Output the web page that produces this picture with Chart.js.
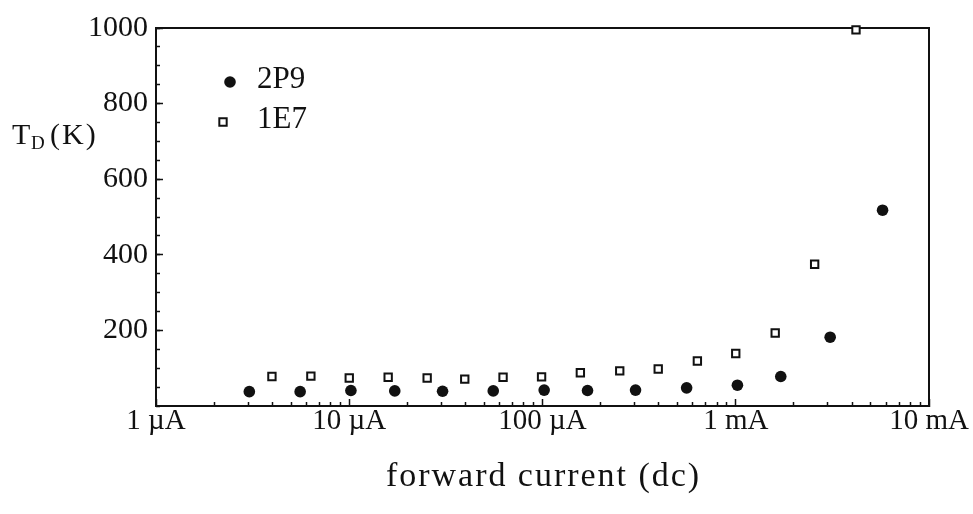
<!DOCTYPE html>
<html>
<head>
<meta charset="utf-8">
<title>T_D vs forward current</title>
<script src="https://cdn.jsdelivr.net/npm/chart.js@4.4.1/dist/chart.umd.min.js"></script>
<style>
  html, body { margin: 0; padding: 0; background: #fff; }
  #wrap { position: relative; width: 973px; height: 514px; }
</style>
</head>
<body>
<div id="wrap"><canvas id="chart" width="973" height="514"></canvas></div>
<script>
// forward current (A) and diode temperature T_D (K)
const current2P9 = [3.04e-6, 5.57e-6, 1.02e-5, 1.72e-5, 3.04e-5, 5.56e-5, 1.02e-4, 1.71e-4,
                    3.03e-4, 5.57e-4, 1.02e-3, 1.71e-3, 3.08e-3, 5.75e-3];
const temp2P9 = [38, 38, 41, 40, 39, 40, 42, 41, 42, 48, 55, 78, 182, 518];

const current1E7 = [3.98e-6, 6.33e-6, 1.0e-5, 1.59e-5, 2.53e-5, 3.96e-5, 6.25e-5, 9.89e-5,
                    1.57e-4, 2.51e-4, 3.97e-4, 6.33e-4, 1.0e-3, 1.6e-3, 2.56e-3, 4.19e-3];
const temp1E7 = [78, 79, 74, 76, 74, 71, 76, 77, 88, 93, 98, 119, 139, 193, 375, 995];

// axis ticks
const decadeTicks = [1e-6, 1e-5, 1e-4, 1e-3, 1e-2];
const decadeLabels = ['1 µA', '10 µA', '100 µA', '1 mA', '10 mA'];
const minorMantissas = [2, 3, 4, 5, 6, 7, 8, 9];
const yLabelTicks = [200, 400, 600, 800, 1000];

const INK = '#111';
const FONT = '"Liberation Serif", "Times New Roman", Times, serif';

function minorXTicks() {
    let out = [];
    decadeTicks.slice(0, -1).forEach(d => {
        minorMantissas.forEach(m => out.push({ value: m * d }));
    });
    return out;
}

function points(xs, ys) {
    return xs.map((x, i) => ({ x: x, y: ys[i] }));
}

// labels may hang past the plot edges, the layout padding already leaves room for them
function noOverhang(s) {
    s.paddingLeft = 0;
    s.paddingRight = 0;
    s.paddingTop = 0;
    s.paddingBottom = 0;
}

// y title with subscript, the in-plot legend and the x title
const textLayer = {
    id: 'textLayer',
    afterDraw(chart) {
        const ctx = chart.ctx;
        const area = chart.chartArea;
        ctx.save();
        ctx.fillStyle = INK;
        ctx.textAlign = 'left';
        ctx.textBaseline = 'alphabetic';

        ctx.font = '30px ' + FONT;
        ctx.fillText('T', 12, 144);
        ctx.font = '19px ' + FONT;
        ctx.fillText('D', 31, 149);
        ctx.font = '30px ' + FONT;
        ctx.letterSpacing = '2px';
        ctx.fillText('(K)', 50, 144);

        // x title, spread to the width it has in the figure
        const xt = 'forward current (dc)';
        const xtWidth = 313;
        ctx.font = '34px ' + FONT;
        ctx.letterSpacing = '0px';
        const w = ctx.measureText(xt).width;
        ctx.letterSpacing = ((xtWidth - w) / (xt.length - 1)).toFixed(2) + 'px';
        ctx.fillText(xt, (area.left + area.right) / 2 - xtWidth / 2, 486);

        // legend
        ctx.letterSpacing = '0px';
        const markX = [74, 67];
        chart.data.datasets.forEach((ds, i) => {
            const mx = area.left + markX[i];
            const my = area.top + 54 + i * 40;
            ctx.fillStyle = ds.pointBackgroundColor;
            ctx.strokeStyle = ds.pointBorderColor;
            ctx.lineWidth = ds.pointBorderWidth;
            Chart.helpers.drawPoint(ctx, {
                pointStyle: ds.pointStyle,
                radius: ds.pointRadius,
                rotation: 0,
                borderWidth: ds.pointBorderWidth
            }, mx, my);
            ctx.fillStyle = INK;
            ctx.font = '31px ' + FONT;
            ctx.fillText(ds.label, area.left + 101, my + 6);
        });
        ctx.restore();
    }
};

const frameAxis = {
    type: 'linear', min: 0, max: 1,
    ticks: { display: false },
    grid: { drawOnChartArea: false, drawTicks: false },
    border: { display: true, color: INK, width: 2 }
};

new Chart(document.getElementById('chart'), {
    type: 'scatter',
    data: {
        datasets: [{
            label: '2P9',
            data: points(current2P9, temp2P9),
            pointStyle: 'circle',
            pointRadius: 5.8,
            pointHoverRadius: 5.8,
            pointBackgroundColor: INK,
            pointBorderColor: INK,
            pointBorderWidth: 0,
            clip: false
        }, {
            label: '1E7',
            data: points(current1E7, temp1E7),
            pointStyle: 'rect',
            pointRadius: 5.2,
            pointHoverRadius: 5.2,
            pointBackgroundColor: '#fff',
            pointBorderColor: INK,
            pointBorderWidth: 2,
            clip: false
        }]
    },
    options: {
        responsive: false,
        animation: false,
        events: [],
        layout: { padding: { left: 0, right: 44, top: 28, bottom: 0 } },
        plugins: {
            legend: { display: false },
            tooltip: { enabled: false }
        },
        scales: {
            x: {
                type: 'logarithmic',
                position: 'bottom',
                weight: 1,
                min: 1e-6,
                max: 1e-2,
                afterBuildTicks: s => { s.ticks = decadeTicks.map(v => ({ value: v })); },
                ticks: {
                    autoSkip: false,
                    maxRotation: 0,
                    padding: 8,
                    color: INK,
                    font: { family: FONT, size: 29, lineHeight: 1 },
                    callback: (v, i) => decadeLabels[i]
                },
                grid: { drawOnChartArea: false, tickLength: -7, tickWidth: 1.5, tickColor: INK },
                border: { color: INK, width: 2 },
                afterFit: s => { s.height = 108; noOverhang(s); }
            },
            xMinor: {
                type: 'logarithmic',
                position: 'bottom',
                weight: 0,
                min: 1e-6,
                max: 1e-2,
                afterBuildTicks: s => { s.ticks = minorXTicks(); },
                ticks: { display: false, autoSkip: false },
                grid: { drawOnChartArea: false, tickLength: -4, tickWidth: 1.5, tickColor: INK },
                border: { display: false },
                afterFit: s => { s.height = 0; noOverhang(s); }
            },
            y: {
                type: 'linear',
                position: 'left',
                weight: 1,
                min: 0,
                max: 1000,
                afterBuildTicks: s => { s.ticks = yLabelTicks.map(v => ({ value: v })); },
                ticks: {
                    autoSkip: false,
                    padding: 15,
                    color: INK,
                    font: { family: FONT, size: 30, lineHeight: 1 },
                    callback: v => String(v)
                },
                grid: { drawOnChartArea: false, tickLength: -7, tickWidth: 1.5, tickColor: INK },
                border: { color: INK, width: 2 },
                afterFit: s => { s.width = 156; noOverhang(s); }
            },
            yMinor: {
                type: 'linear',
                position: 'left',
                weight: 0,
                min: 0,
                max: 1000,
                ticks: { display: false, stepSize: 50, autoSkip: false },
                grid: { drawOnChartArea: false, tickLength: -4, tickWidth: 1.5, tickColor: INK },
                border: { display: false },
                afterFit: s => { s.width = 0; noOverhang(s); }
            },
            top: Object.assign({ position: 'top', afterFit: s => { s.height = 0; noOverhang(s); } }, frameAxis),
            right: Object.assign({ position: 'right', afterFit: s => { s.width = 0; noOverhang(s); } }, frameAxis)
        }
    },
    plugins: [textLayer]
});
</script>
</body>
</html>
